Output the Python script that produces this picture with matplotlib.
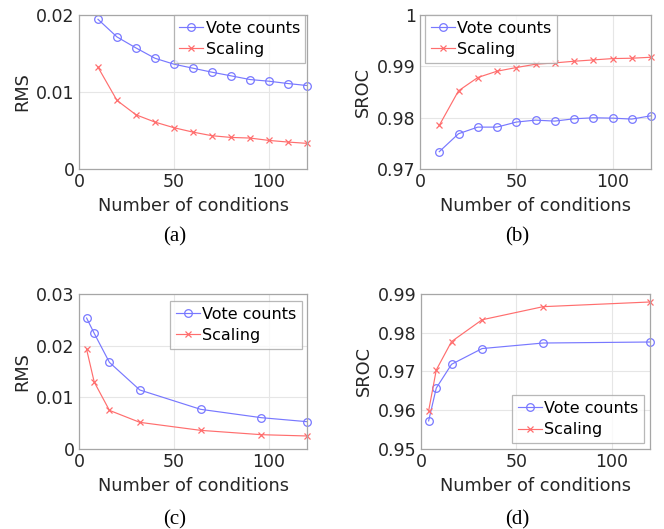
import matplotlib
matplotlib.use("Agg")
import matplotlib.pyplot as plt

# ---- data ----
x_ab = [10, 20, 30, 40, 50, 60, 70, 80, 90, 100, 110, 120]
rms_vote_a = [0.01944, 0.01715, 0.01572, 0.01438, 0.01361, 0.01309, 0.01257, 0.01210, 0.01162, 0.01140, 0.01110, 0.01084]
rms_scal_a = [0.01322, 0.00890, 0.00704, 0.00609, 0.00536, 0.00479, 0.00432, 0.00410, 0.00402, 0.00371, 0.00350, 0.00333]
sroc_vote_b = [0.97337, 0.97687, 0.97816, 0.97816, 0.97914, 0.97952, 0.97933, 0.97978, 0.97998, 0.97991, 0.97972, 0.98037]
sroc_scal_b = [0.97849, 0.98523, 0.98782, 0.98905, 0.98976, 0.99041, 0.99067, 0.99099, 0.99125, 0.99151, 0.99158, 0.99177]

x_c = [4, 8, 16, 32, 64, 96, 120]
rms_vote_c = [0.02535, 0.02239, 0.01677, 0.01142, 0.00768, 0.00606, 0.00529]
rms_scal_c = [0.01929, 0.01297, 0.00748, 0.00516, 0.00361, 0.00277, 0.00252]

x_d = [4, 8, 16, 32, 64, 120]
sroc_vote_d = [0.95726, 0.96572, 0.97186, 0.97592, 0.97735, 0.97761]
sroc_scal_d = [0.95985, 0.97039, 0.97773, 0.98335, 0.98673, 0.98794]

labels = ["Vote counts", "Scaling"]
captions = ["(a)", "(b)", "(c)", "(d)"]

W, H = 664, 529
fig = plt.figure(figsize=(W / 100, H / 100), dpi=100)
plt.rcParams['font.family'] = ['DejaVu Sans']

BLUE = '#7878ff'
RED = '#ff6e6e'
SPINE = '#a6a6a6'
TXT = '#262626'


def make_ax(l, r, t, b):
    return fig.add_axes([l / W, 1 - b / H, (r - l) / W, (b - t) / H])


def style(ax, ylim, yticks, yticklabels, ylabel):
    ax.set_xlim(0, 120)
    ax.set_xticks([0, 50, 100])
    ax.set_ylim(*ylim)
    ax.set_yticks(yticks)
    ax.set_yticklabels(yticklabels)
    ax.grid(True, color='#e6e6e6', linewidth=0.8)
    ax.set_axisbelow(True)
    for s in ax.spines.values():
        s.set_color(SPINE)
        s.set_linewidth(0.9)
    ax.tick_params(length=0, labelsize=12.5, colors=TXT, pad=3)
    ax.set_xlabel("Number of conditions", fontsize=12.8, color=TXT, labelpad=4)
    ax.set_ylabel(ylabel, fontsize=12.8, color=TXT, labelpad=3.5)


def plot(ax, x, v, s):
    ax.plot(x, v, color=BLUE, lw=0.85, marker='o', ms=5.5, mfc='none', mew=0.9, label=labels[0], clip_on=False)
    ax.plot(x, s, color=RED, lw=0.85, marker='x', ms=4, mew=0.9, label=labels[1], clip_on=False)


def legend(ax, loc, anchor):
    lg = ax.legend(loc=loc, bbox_to_anchor=anchor, fontsize=11.5, frameon=True, fancybox=False,
                   borderaxespad=0, handlelength=1.5, handletextpad=0.15, borderpad=0.35,
                   labelspacing=0.4)
    lg.get_frame().set_edgecolor(SPINE)
    lg.get_frame().set_linewidth(0.9)
    for t in lg.get_texts():
        t.set_color('black')


# (a)
axa = make_ax(79, 307, 15, 169)
plot(axa, x_ab, rms_vote_a, rms_scal_a)
style(axa, (0, 0.02), [0, 0.01, 0.02], ['0', '0.01', '0.02'], 'RMS')
legend(axa, 'upper right', (0.993, 1.0))

# (b)
axb = make_ax(420, 651, 15, 169)
plot(axb, x_ab, sroc_vote_b, sroc_scal_b)
style(axb, (0.97, 1.0), [0.97, 0.98, 0.99, 1.0], ['0.97', '0.98', '0.99', '1'], 'SROC')
legend(axb, 'upper left', (0.022, 1.0))

# (c)
axc = make_ax(79, 307, 294, 449)
plot(axc, x_c, rms_vote_c, rms_scal_c)
style(axc, (0, 0.03), [0, 0.01, 0.02, 0.03], ['0', '0.01', '0.02', '0.03'], 'RMS')
legend(axc, 'upper right', (0.978, 0.955))

# (d)
axd = make_ax(421, 650, 294, 449)
plot(axd, x_d, sroc_vote_d, sroc_scal_d)
style(axd, (0.95, 0.99), [0.95, 0.96, 0.97, 0.98, 0.99], ['0.95', '0.96', '0.97', '0.98', '0.99'], 'SROC')
legend(axd, 'lower right', (0.974, 0.039))

cap_pos = [(175, 237), (517, 237), (175, 520), (517, 520)]
for c, (cx, cy) in zip(captions, cap_pos):
    fig.text(cx / W, 1 - cy / H, c, ha='center', va='center', fontsize=15,
             family=['Liberation Serif', 'DejaVu Serif'], color='black')

fig.savefig("out.png", dpi=100)
